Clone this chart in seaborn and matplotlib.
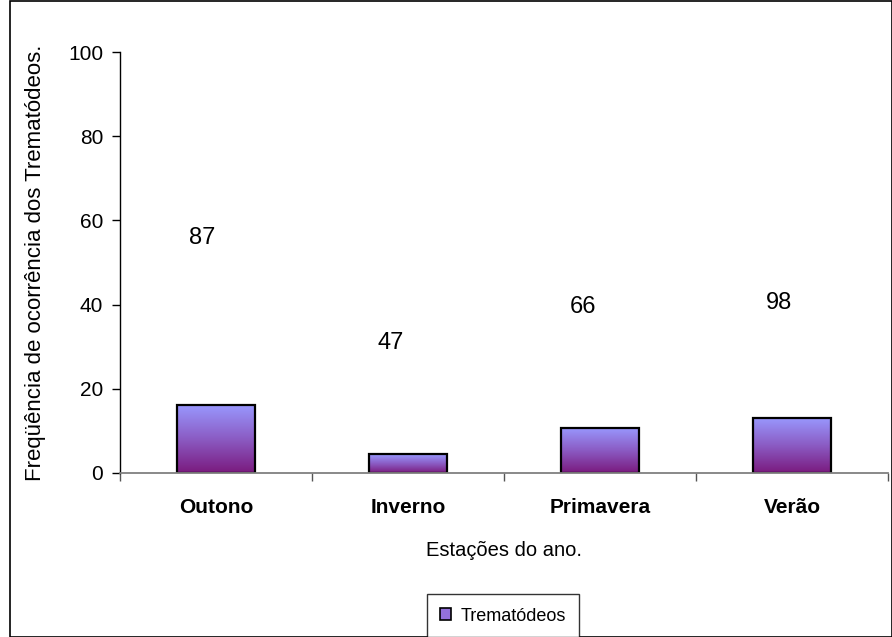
import numpy as np
import pandas as pd
import seaborn as sns
import matplotlib.pyplot as plt
from matplotlib.patches import Patch, Rectangle

# data
estacoes = ["Outono", "Inverno", "Primavera", "Verão"]
frequencia = [16.2, 4.5, 10.8, 13.1]
rotulos = ["87", "47", "66", "98"]
yticks = [0, 20, 40, 60, 80, 100]

# where the free-floating value labels sit (category offset, y in axis units)
rotulo_pos = [(-0.07, 55.8), (-0.09, 30.9), (-0.09, 39.4), (-0.07, 40.4)]

sns.set_theme(style="white", rc={"text.color": "black",
                                 "axes.labelcolor": "black",
                                 "xtick.color": "black",
                                 "ytick.color": "black"})
plt.rcParams['font.family'] = ['Liberation Sans', 'DejaVu Sans']

df = pd.DataFrame({"estacao": estacoes, "freq": frequencia})

W, H = 892, 637
fig = plt.figure(figsize=(W / 100, H / 100), dpi=100)
ax = fig.add_axes([120 / W, 1 - 473 / H, 768 / W, 421 / H])

sns.barplot(data=df, x="estacao", y="freq", ax=ax, width=0.41,
            color="#9370db", edgecolor="black", linewidth=1.6)

# vertical gradient fill like the old Excel style
grad = np.linspace(1, 0, 256).reshape(-1, 1)
cmap = plt.matplotlib.colors.LinearSegmentedColormap.from_list(
    "excel", ["#7a1a7e", "#8b5cc4", "#9999ff"])
for p in ax.patches:
    x0, y0 = p.get_x(), p.get_y()
    x1, y1 = x0 + p.get_width(), y0 + p.get_height()
    im = ax.imshow(grad, extent=[x0, x1, y0, y1], aspect="auto",
                   cmap=cmap, origin="upper", zorder=p.get_zorder() - 0.1)
    im.set_clip_path(p)
    p.set_facecolor("none")

for i, (lab, (dx, y)) in enumerate(zip(rotulos, rotulo_pos)):
    ax.text(i + dx, y, lab, ha="center", va="center", fontsize=17)

ax.set_xlim(-0.5, len(estacoes) - 0.5)
ax.set_ylim(0, 100)
ax.set_yticks(yticks)
ax.set_yticklabels([str(t) for t in yticks], fontsize=15)
ax.set_xticks(range(len(estacoes)))
ax.set_xticklabels(estacoes, fontsize=15, fontweight="bold")
ax.set_xticks(np.arange(-0.5, len(estacoes)), minor=True)
ax.tick_params(axis="x", which="major", length=0, pad=18)
ax.tick_params(axis="x", which="minor", length=6, width=1, color="#555555",
               direction="out", bottom=True)
ax.tick_params(axis="y", length=6, width=1, color="black", direction="out",
               left=True, pad=6)

for s in ["top", "right"]:
    ax.spines[s].set_visible(False)
ax.spines["left"].set_color("black")
ax.spines["left"].set_linewidth(1)
ax.spines["bottom"].set_color("#808080")
ax.spines["bottom"].set_linewidth(1.3)

ax.set_xlabel("Estações do ano.", fontsize=14.5, labelpad=17)
ax.set_ylabel("Freqüência de ocorrência dos Trematódeos.", fontsize=16,
              labelpad=16)

handle = Patch(facecolor="#9370db", edgecolor="black", linewidth=1.2)
leg = fig.legend([handle], ["Trematódeos"], loc="upper center",
                 bbox_to_anchor=(503 / W, 1 - 594 / H), fontsize=13,
                 frameon=True, fancybox=False, borderpad=0.75,
                 handlelength=0.6, handleheight=0.6, handletextpad=0.5,
                 borderaxespad=0)
leg.get_frame().set_edgecolor("black")
leg.get_frame().set_linewidth(1)

# chart-area border
fig.patches.append(Rectangle((10 / W, 0), 1 - 10 / W - 0.5 / W, 1 - 1 / H,
                             transform=fig.transFigure, fill=False,
                             edgecolor="black", linewidth=1.2))

plt.savefig("out.png", dpi=100)
